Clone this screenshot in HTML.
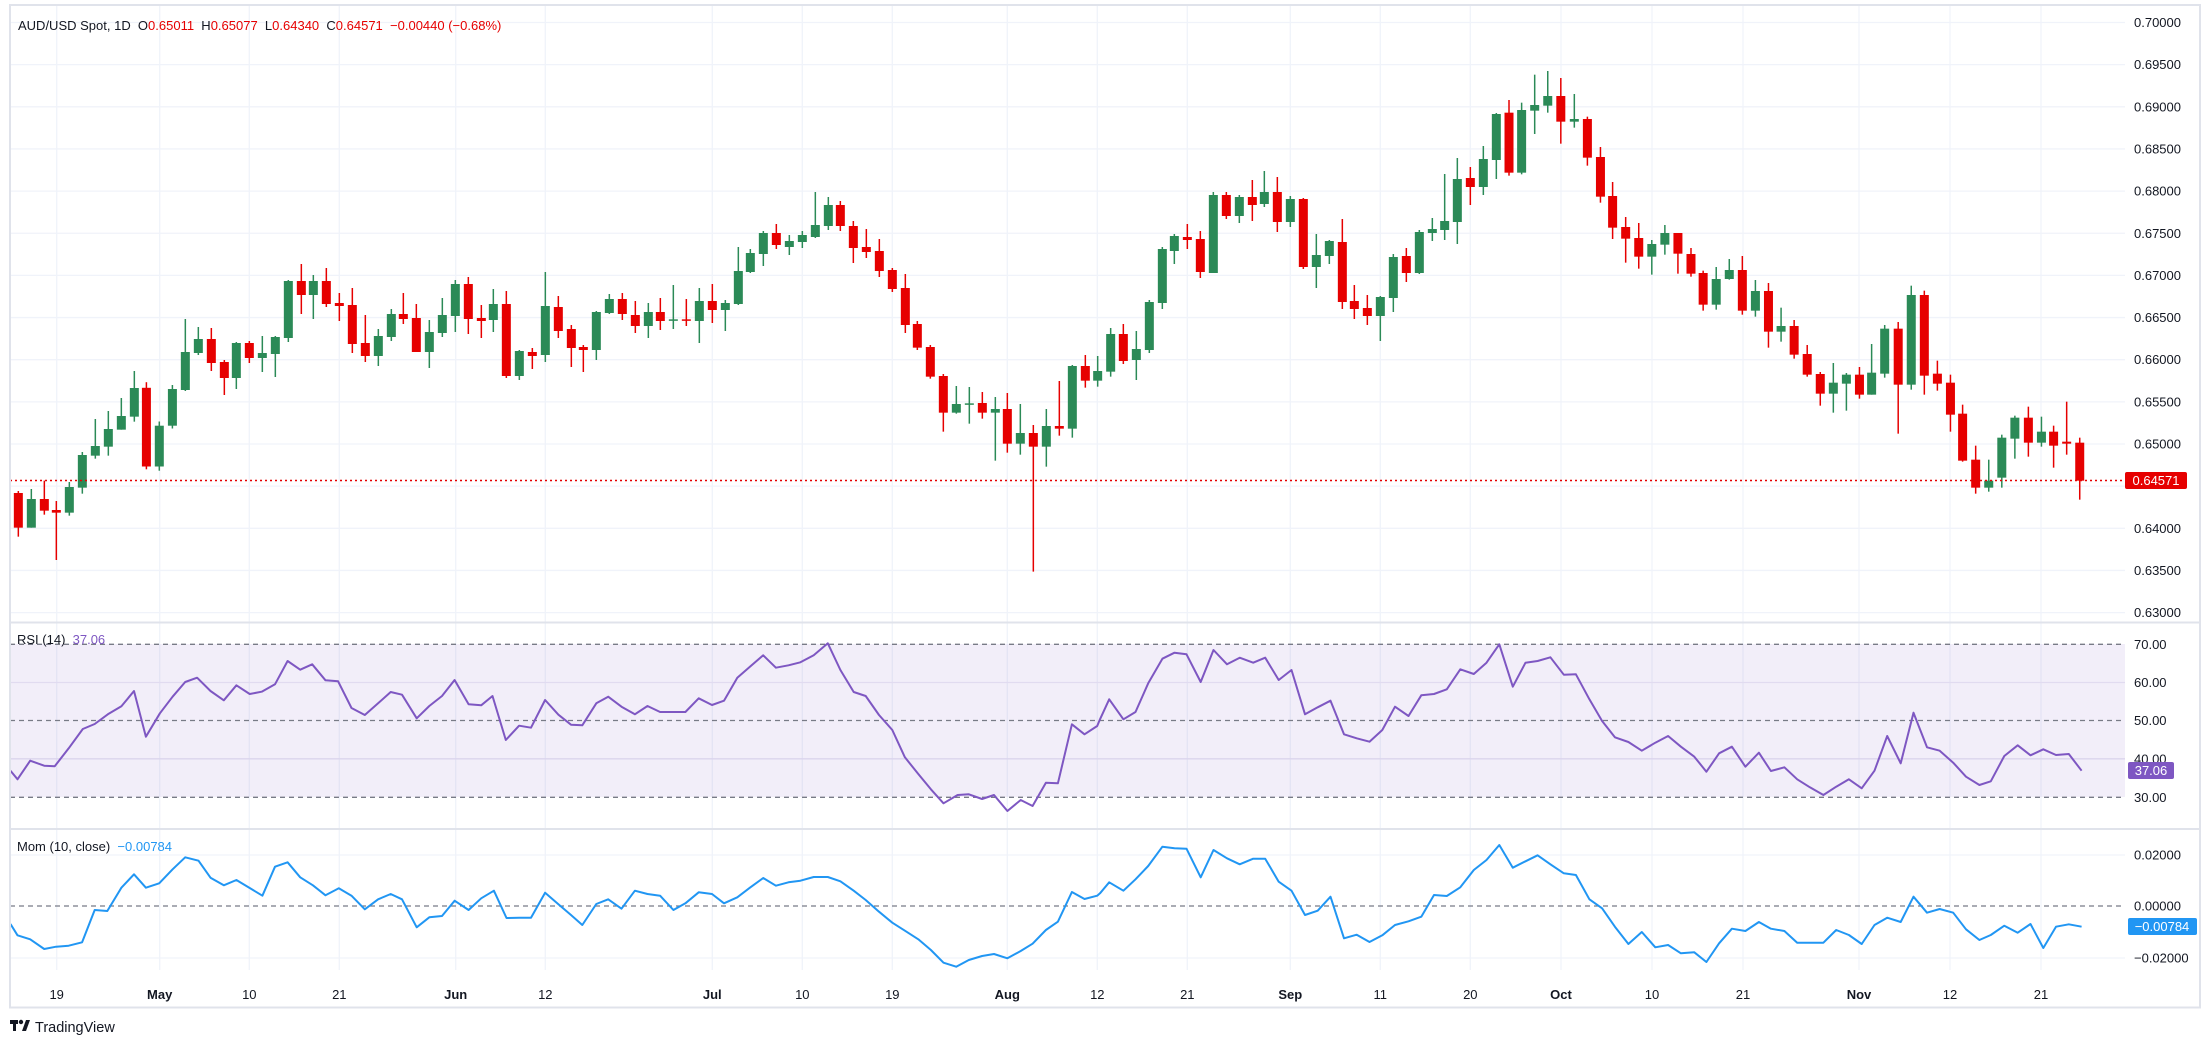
<!DOCTYPE html>
<html><head><meta charset="utf-8"><style>
html,body{margin:0;padding:0;background:#fff;}
svg{display:block;font-family:"Liberation Sans",sans-serif;}
svg text{white-space:pre;}
</style></head><body>
<svg id="c" width="2203" height="1043" viewBox="0 0 2203 1043" xmlns="http://www.w3.org/2000/svg" xml:space="preserve">
<rect x="0" y="0" width="2203" height="1043" fill="#fff"/>
<g id="grid"></g>
<rect x="10" y="644" width="2115" height="153" fill="#7e57c2" fill-opacity="0.1"/>
<g id="dash" stroke="#787b86" stroke-width="1.3" stroke-dasharray="5,4"></g>
<g id="candles"></g>
<line x1="10" y1="480.5" x2="2125" y2="480.5" stroke="#e60000" stroke-width="1.5" stroke-dasharray="2,3"/>
<polyline id="rsi" fill="none" stroke="#7e57c2" stroke-width="2" stroke-linejoin="round"/>
<polyline id="mom" fill="none" stroke="#2196f3" stroke-width="2" stroke-linejoin="round"/>
<g id="frame" fill="none" stroke="#e0e3eb" stroke-width="2">
<rect x="10" y="5" width="2190" height="1002.5"/>
<line x1="10" y1="622.5" x2="2200" y2="622.5"/>
<line x1="10" y1="829" x2="2200" y2="829"/>
</g>
<g id="labels" font-size="13" fill="#131722"></g>
<text x="18" y="30" font-size="13" fill="#131722">AUD/USD Spot, 1D  O<tspan fill="#e60000">0.65011</tspan>  H<tspan fill="#e60000">0.65077</tspan>  L<tspan fill="#e60000">0.64340</tspan>  C<tspan fill="#e60000">0.64571</tspan>  <tspan fill="#e60000">−0.00440 (−0.68%)</tspan></text>
<text x="17" y="644" font-size="13" fill="#131722">RSI (14)  <tspan fill="#7e57c2">37.06</tspan></text>
<text x="17" y="851" font-size="13" fill="#131722">Mom (10, close)  <tspan fill="#2196f3">−0.00784</tspan></text>
<rect x="2125" y="472" width="62" height="17" rx="2" fill="#e60000"/>
<text x="2156" y="485" font-size="13" fill="#fff" text-anchor="middle">0.64571</text>
<rect x="2128" y="762" width="46" height="17" rx="2" fill="#7e57c2"/>
<text x="2151" y="775" font-size="13" fill="#fff" text-anchor="middle">37.06</text>
<rect x="2128" y="918" width="69" height="17" rx="2" fill="#2196f3"/>
<text x="2162" y="931" font-size="13" fill="#fff" text-anchor="middle">−0.00784</text>
<g fill="#131722"><rect x="10" y="1020" width="8" height="4"/><rect x="13" y="1020" width="3" height="11"/><circle cx="21" cy="1022" r="2.2"/><polygon points="22,1031 26,1020 30,1020 26,1031"/></g>
<text x="35" y="1032" font-size="14.5" fill="#131722">TradingView</text>
</svg>
<script>
var NS="http://www.w3.org/2000/svg";
function el(p,t,a,txt){var e=document.createElementNS(NS,t);for(var k in a)e.setAttribute(k,a[k]);if(txt!==undefined)e.textContent=txt;document.getElementById(p).appendChild(e);return e;}
var gx=[56.7,159.7,249.3,339.3,455.7,545.3,712.3,802.3,892.3,1007.3,1097.3,1187.3,1290.3,1380.3,1470.3,1561,1652,1743,1859,1950,2041];
var gl=["19","May","10","21","Jun","12","Jul","10","19","Aug","12","21","Sep","11","20","Oct","10","21","Nov","12","21"];
gx.forEach(function(x,i){el("grid","line",{x1:x,y1:5,x2:x,y2:970,stroke:"#f0f3fa","stroke-width":1.3});
 var b=/[A-Z]/.test(gl[i]);el("labels","text",{x:x,y:999,"text-anchor":"middle","font-weight":b?"bold":"normal"},gl[i]);});
for(var k=0;k<=14;k++){var p=0.70-k*0.005,y=22.5+k*42.15;
 el("grid","line",{x1:10,y1:y,x2:2125,y2:y,stroke:"#f0f3fa","stroke-width":1.3});
 if(k!=11)el("labels","text",{x:2134,y:y+4.5},p.toFixed(5));}
el("grid","line",{x1:10,y1:682.5,x2:2125,y2:682.5,stroke:"#eceaf5","stroke-width":1.3});
el("grid","line",{x1:10,y1:758.8,x2:2125,y2:758.8,stroke:"#e6e3f2","stroke-width":1.3});
el("grid","line",{x1:10,y1:855,x2:2125,y2:855,stroke:"#f0f3fa","stroke-width":1.3});
el("grid","line",{x1:10,y1:958,x2:2125,y2:958,stroke:"#f0f3fa","stroke-width":1.3});
[644.3,720.5,797.3].forEach(function(y){el("dash","line",{x1:10,y1:y,x2:2125,y2:y});});
el("dash","line",{x1:10,y1:906,x2:2125,y2:906});
[["70.00",644.3],["60.00",682.5],["50.00",720.5],["40.00",758.8],["30.00",797.3]].forEach(function(a){el("labels","text",{x:2134,y:a[1]+4.5},a[0]);});
[["0.02000",855],["0.00000",906],["−0.02000",958]].forEach(function(a){el("labels","text",{x:2134,y:a[1]+4.5},a[0]);});
var C=[];
function add(set,ox,oy,sx,sy){set.forEach(function(d){C.push([ox+d[0]/sx,oy+d[1]/sy,oy+d[2]/sy,oy+d[3]/sy,oy+d[4]/sy,d[5]]);});}
add([[55,399,503,393,530,'r'],[94,417,503,387,503,'g'],[133,417,452,362,464,'r'],[169,450,458,423,600,'r'],[208,381,458,366,467,'g'],[247,285,383,276,401,'g'],[286,258,287,177,296,'g'],[325,207,260,153,287,'g'],[364,168,209,114,209,'g'],[403,84,170,33,185,'g']],0,360,3,3);
C.push([146.4,387.8,466.5,382.2,469.3,'r'],[159.3,425.7,466.5,421.5,470.7,'g'],[172.4,389,425.7,385,428.5,'g']);
add([[556,546,660,447,663,'g'],[595,507,549,471,555,'g'],[634,507,579,474,603,'r'],[673,576,624,570,675,'r'],[709,519,624,516,657,'g'],[748,519,564,513,579,'r'],[787,549,564,498,606,'g'],[826,501,552,498,621,'g'],[865,333,504,330,516,'g'],[904,333,375,282,432,'r'],[940,333,375,315,447,'g'],[979,333,402,294,411,'r'],[1018,399,408,369,453,'r'],[1057,405,522,354,549,'r'],[1096,519,558,435,576,'r']],0,170,3,3);
add([[25,648,708,627,738,'g'],[64,582,651,567,663,'g'],[100,582,597,519,612,'r'],[139,594,696,552,696,'r'],[178,636,696,600,744,'g'],[217,585,639,534,651,'g'],[256,492,588,480,636,'g'],[295,492,597,471,642,'r'],[334,594,603,555,654,'r'],[370,552,600,507,636,'g'],[409,552,768,513,774,'r'],[448,693,768,690,780,'g'],[487,696,708,684,747,'r'],[526,558,705,456,726,'g'],[565,561,633,528,654,'r'],[604,627,684,615,741,'r'],[640,681,690,675,756,'r'],[679,576,690,573,720,'g'],[718,537,579,522,582,'g'],[757,537,582,519,600,'r'],[796,585,618,543,639,'r'],[835,576,618,549,654,'g'],[871,576,603,534,630,'r'],[910,598,602,495,627,'g'],[949,598,602,537,618,'r'],[988,543,603,504,669,'g'],[1027,543,570,492,609,'r'],[1066,549,570,540,633,'g'],[1105,453,552,381,555,'g']],370,120,3,3);
add([[31,639,696,627,699,'g'],[70,579,642,573,678,'g'],[109,579,615,552,627,'r'],[148,603,621,585,645,'g'],[187,585,606,573,624,'g'],[226,555,591,456,594,'g'],[265,495,558,471,570,'g'],[301,495,558,483,573,'r'],[340,558,624,543,669,'r'],[379,621,636,567,654,'r'],[418,633,693,597,711,'r'],[457,690,747,684,756,'r'],[496,744,855,702,879,'r']],740,40,3,3);
add([[52,102,173,93,180,'r'],[91,171,260,165,266,'r'],[130,258,368,252,425,'r'],[169,342,368,288,371,'g'],[208,340,344,291,401,'g'],[247,339,368,306,386,'r'],[286,357,368,321,512,'g'],[322,357,461,309,488,'r'],[361,429,461,342,494,'g'],[400,429,470,405,845,'r'],[439,408,470,357,530,'g'],[478,408,416,273,437,'r'],[517,228,416,225,443,'g'],[556,228,272,195,293,'r'],[593,243,272,198,290,'g'],[632,132,245,114,260,'g']],900,290,3,3);
add([[40,762,843,732,852,'r'],[79,807,840,753,900,'g'],[118,666,810,660,819,'g'],[157,507,669,501,687,'g'],[193,468,513,462,552,'g'],[232,471,480,432,507,'r'],[271,477,576,453,594,'r'],[310,345,579,336,579,'g'],[349,345,408,336,417,'r'],[388,351,408,345,429,'g'],[427,351,375,300,423,'r'],[463,336,372,273,381,'g'],[502,336,426,291,456,'r'],[541,357,426,348,441,'g'],[580,357,561,354,567,'r'],[619,525,561,462,624,'g'],[658,483,528,480,552,'g'],[697,486,666,417,687,'r'],[733,663,687,615,717,'r'],[772,684,708,645,735,'r'],[811,651,708,648,783,'g'],[850,531,654,522,696,'g'],[889,528,579,504,606,'r'],[928,456,579,450,582,'g'],[967,447,459,414,483,'g'],[1004,423,450,282,480,'g'],[1042,297,426,234,492,'g'],[1081,294,321,261,375,'r'],[1120,237,321,198,345,'g'],[1159,102,240,99,297,'g']],1110,80,3,3);
add([[20,218,398,180,407,'r'],[48,210,398,188,403,'g'],[77,195,212,104,282,'g'],[106,168,197,93,218,'g'],[135,168,245,114,311,'r'],[165,237,245,162,263,'g'],[194,237,353,230,377,'r'],[223,351,470,321,488,'r'],[250,468,563,426,597,'r'],[279,561,596,531,668,'r'],[308,594,650,549,686,'r'],[337,612,650,600,704,'g'],[366,579,614,555,644,'g'],[395,579,641,579,701,'r'],[424,642,701,624,710,'r'],[451,699,794,692,812,'r'],[480,717,794,681,809,'g'],[509,690,717,657,719,'g'],[538,690,812,648,824,'r'],[567,753,812,720,830,'g'],[596,753,875,729,923,'r'],[624,858,875,803,905,'g'],[653,858,944,840,956,'r'],[682,942,1004,915,1010,'r'],[711,1002,1061,996,1097,'r'],[740,1028,1061,969,1118,'g'],[769,1004,1031,999,1112,'g'],[798,1004,1064,981,1076,'r'],[825,998,1064,912,1064,'g'],[854,866,1001,855,1013,'g'],[884,866,1034,846,1181,'r'],[913,765,1034,737,1049,'g'],[942,765,1007,752,1064,'r'],[971,1001,1031,962,1052,'r'],[1000,1028,1124,1004,1175,'r'],[1027,1121,1262,1094,1265,'r'],[1056,1259,1343,1217,1361,'r'],[1085,1322,1343,1259,1355,'g'],[1114,1193,1313,1184,1343,'g'],[1143,1133,1196,1127,1256,'g'],[1173,1133,1208,1100,1250,'r'],[1202,1175,1208,1130,1220,'g'],[1229,1175,1217,1157,1283,'r'],[1258,1205,1211,1085,1244,'r'],[1287,1208,1322,1193,1379,'r']],1500,40,2.22,3);
C.forEach(function(c){var col=c[5]=='g'?'#2b8a57':'#e60000';
 el("candles","line",{x1:c[0],y1:c[3],x2:c[0],y2:c[4],stroke:col,"stroke-width":1.5});
 var h=Math.max(c[2]-c[1],1.5);el("candles","rect",{x:c[0]-4.5,y:c[1],width:9,height:h,fill:col});});
function pts(a,ox,oy,sx,sy){return a.map(function(p){return (ox+p[0]/sx).toFixed(1)+","+(oy+p[1]/sy).toFixed(1);}).join(" ");}
var r1=[[15,452],[25,478],[43,422],[63,437],[78,439],[98,385],[118,327],[135,312],[155,281],[173,259],[191,213],[208,350],[228,280],[246,230],[264,186],[281,173],[300,213],[319,241],[337,196],[356,222],[373,215],[392,193],[410,123],[428,149],[445,133],[464,181],[482,184],[501,264],[520,285],[539,250],[557,216],[573,224],[594,295],[612,258],[630,228],[648,180],[668,253],[686,256],[702,228],[721,360],[740,317],[757,323],[777,240],[796,284],[814,314],[830,316],[850,250],[867,230],[886,260],[905,283],[923,258],[941,276],[960,276],[977,276],[996,235],[1015,255],[1032,242],[1051,173],[1069,140],[1088,106],[1106,143],[1124,136],[1141,127],[1160,106],[1180,70],[1198,150],[1217,216],[1234,228],[1253,285],[1272,330],[1290,412],[1309,462],[1327,508],[1345,550],[1365,525],[1381,523],[1400,537],[1417,525],[1436,573],[1455,540],[1472,558],[1491,488],[1508,490],[1528,313],[1546,343],[1564,318]];
var r2=[[0,298],[13,238],[33,298],[50,276],[68,190],[88,116],[105,98],[122,103],[142,186],[160,90],[179,133],[197,113],[216,128],[233,113],[252,180],[270,150],[289,283],[307,262],[325,242],[344,343],[362,355],[380,365],[398,330],[416,260],[435,288],[453,226],[471,222],[489,208],[508,148],[527,162],[545,128],[563,73],[582,200],[600,128],[617,123],[635,112],[654,164],[671,163],[690,238],[708,303],[726,352],[745,366],[764,392],[783,368],[801,348],[819,380],[838,410],[855,455],[873,400],[891,380],[910,440],[929,398],[946,453],[965,442],[983,478],[1001,502],[1020,525],[1038,500],[1056,478],[1074,505],[1092,452],[1110,348],[1129,430],[1147,278],[1166,382],[1184,392],[1203,428],[1221,470],[1240,495],[1256,484],[1275,408],[1294,376],[1312,406],[1330,388],[1348,405],[1366,402],[1384,452]];
document.getElementById("rsi").setAttribute("points",pts(r1,0,620,1.4255,3)+" "+pts(r2,1100,620,1.41,3));
var m1=[[15,912],[25,946],[43,958],[63,987],[80,980],[98,977],[117,967],[135,870],[153,873],[173,803],[191,763],[208,803],[227,790],[246,748],[264,712],[283,722],[300,773],[319,796],[337,780],[356,804],[374,827],[392,740],[410,727],[428,772],[446,796],[464,826],[483,805],[501,827],[520,868],[539,838],[557,822],[573,838],[594,922],[612,892],[630,888],[648,842],[668,870],[686,835],[704,812],[722,894],[740,893],[757,893],[777,818],[796,853],[814,885],[830,915],[850,852],[867,838],[886,866],[905,812],[923,822],[941,827],[960,870],[977,850],[996,817],[1015,822],[1032,850],[1051,832],[1069,803],[1088,774],[1106,797],[1124,787],[1141,782],[1160,771],[1180,771],[1198,784],[1217,812],[1234,840],[1253,875],[1272,908],[1290,932],[1309,958],[1327,990],[1345,1028],[1363,1040],[1381,1020],[1400,1008],[1417,1002],[1436,1015],[1455,993],[1472,971],[1491,930],[1508,905],[1528,816],[1546,837],[1564,827]];
var m2=[[0,820],[13,787],[33,812],[50,778],[68,738],[88,680],[105,685],[122,686],[142,772],[160,690],[179,715],[197,733],[216,716],[233,716],[252,785],[270,812],[289,885],[307,872],[325,830],[344,955],[362,944],[380,966],[398,946],[416,915],[435,904],[453,890],[471,825],[489,828],[508,802],[527,750],[545,720],[563,675],[582,743],[600,724],[617,706],[635,733],[654,760],[671,765],[690,838],[708,865],[726,920],[745,972],[764,936],[783,982],[801,975],[819,1000],[838,997],[855,1026],[873,970],[891,926],[910,933],[929,906],[946,926],[965,933],[983,968],[1001,968],[1020,968],[1038,930],[1056,945],[1074,972],[1092,915],[1110,893],[1129,906],[1147,830],[1166,878],[1184,867],[1203,878],[1221,928],[1240,960],[1256,945],[1275,917],[1294,938],[1312,912],[1330,984],[1348,920],[1366,913],[1384,920]];
document.getElementById("mom").setAttribute("points",pts(m1,0,620,1.4255,3)+" "+pts(m2,1100,620,1.41,3));
</script>
</body></html>
